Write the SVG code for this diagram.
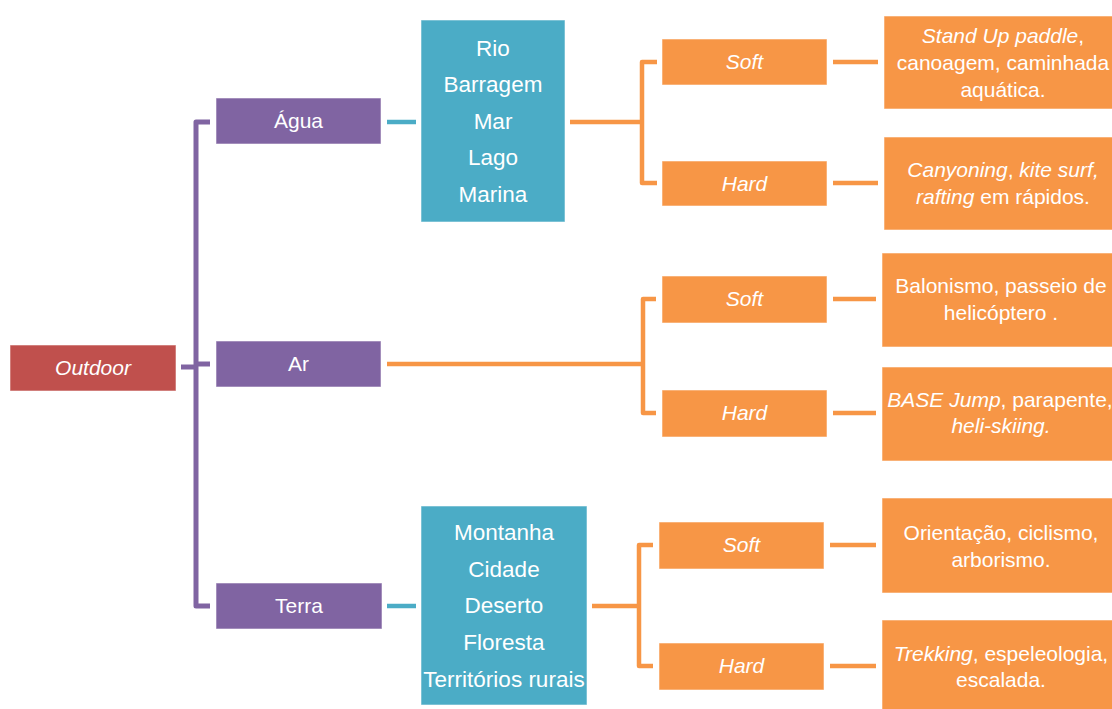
<svg xmlns="http://www.w3.org/2000/svg" width="1112" height="709" viewBox="0 0 1112 709">
<style>
text{font-family:"Liberation Sans",Arial,sans-serif;font-size:21px;fill:#fff;text-anchor:middle}
.i{font-style:italic}
.l{font-size:22.5px}
.r{font-size:21px}
.box{stroke:#fff;stroke-opacity:0.55;stroke-width:1}
.red{fill:#C0504D}.pur{fill:#8064A2}.blu{fill:#4BACC6}.org{fill:#F79646}
.cp{fill:none;stroke:#8064A2;stroke-width:5;stroke-linejoin:round}
.cb{fill:none;stroke:#4BACC6;stroke-width:4.5}
.co{fill:none;stroke:#F79646;stroke-width:4.5;stroke-linejoin:round}
</style>
<rect width="1112" height="709" fill="#fff"/>
<g id="connectors">
<path class="cp" d="M181,367H196"/>
<path class="cp" d="M210,122H196V606H210"/>
<path class="cp" d="M196,364H210"/>
<path class="cb" d="M387,122H416"/>
<path class="cb" d="M387,606H416"/>
<path class="co" d="M570,122H642"/>
<path class="co" d="M657,62H642V183H657"/>
<path class="co" d="M387,364H643"/>
<path class="co" d="M656,299H643V413H656"/>
<path class="co" d="M592,606H639"/>
<path class="co" d="M653,545H639V666H653"/>
<path class="co" d="M833,62H878"/>
<path class="co" d="M833,183H878"/>
<path class="co" d="M833,299H876"/>
<path class="co" d="M833,413H876"/>
<path class="co" d="M830,545H876"/>
<path class="co" d="M830,666H876"/>
</g>
<g id="outdoor"><rect class="box red" x="10" y="345" width="166" height="46"/><text class="i" x="93" y="375">Outdoor</text></g>
<g id="agua"><rect class="box pur" x="216" y="98" width="165" height="46"/><text x="298.5" y="128">Água</text></g>
<g id="ar"><rect class="box pur" x="216" y="341" width="165" height="46"/><text x="298.5" y="371">Ar</text></g>
<g id="terra"><rect class="box pur" x="216" y="583" width="166" height="46"/><text x="299" y="613">Terra</text></g>
<g id="agua-locais"><rect class="box blu" x="421" y="20" width="144" height="202"/>
<text class="l" x="493" y="55.5">Rio</text><text class="l" x="493" y="92">Barragem</text><text class="l" x="493" y="128.5">Mar</text><text class="l" x="493" y="165">Lago</text><text class="l" x="493" y="201.5">Marina</text></g>
<g id="terra-locais"><rect class="box blu" x="421" y="506" width="166" height="199"/>
<text class="l" x="504" y="540">Montanha</text><text class="l" x="504" y="577">Cidade</text><text class="l" x="504" y="613">Deserto</text><text class="l" x="504" y="650">Floresta</text><text class="l" x="504" y="687">Territórios rurais</text></g>
<g id="agua-soft"><rect class="box org" x="662" y="39" width="165" height="46"/><text class="i" x="744.5" y="69">Soft</text></g>
<g id="agua-hard"><rect class="box org" x="662" y="161" width="165" height="45"/><text class="i" x="744.5" y="190.5">Hard</text></g>
<g id="ar-soft"><rect class="box org" x="662" y="276" width="165" height="47"/><text class="i" x="744.5" y="306">Soft</text></g>
<g id="ar-hard"><rect class="box org" x="662" y="390" width="165" height="47"/><text class="i" x="744.5" y="420">Hard</text></g>
<g id="terra-soft"><rect class="box org" x="659" y="522" width="165" height="47"/><text class="i" x="741.5" y="552">Soft</text></g>
<g id="terra-hard"><rect class="box org" x="659" y="643" width="165" height="47"/><text class="i" x="741.5" y="673">Hard</text></g>
<g id="agua-soft-res"><rect class="box org" x="884" y="16" width="238" height="93"/>
<text class="r" x="1003" y="43"><tspan class="i">Stand Up paddle</tspan>,</text>
<text class="r" x="1003" y="70">canoagem, caminhada</text>
<text class="r" x="1003" y="97">aquática.</text></g>
<g id="agua-hard-res"><rect class="box org" x="884" y="137" width="238" height="93"/>
<text class="r" x="1003" y="177"><tspan class="i">Canyoning</tspan>, <tspan class="i">kite surf,</tspan></text>
<text class="r" x="1003" y="204"><tspan class="i">rafting</tspan> em rápidos.</text></g>
<g id="ar-soft-res"><rect class="box org" x="882" y="253" width="240" height="94"/>
<text class="r" x="1001" y="293">Balonismo, passeio de</text>
<text class="r" x="1001" y="320">helicóptero .</text></g>
<g id="ar-hard-res"><rect class="box org" x="882" y="367" width="240" height="94"/>
<text class="r" x="1000" y="407"><tspan class="i">BASE Jump</tspan>, parapente,</text>
<text class="r" x="1001" y="433"><tspan class="i">heli-skiing.</tspan></text></g>
<g id="terra-soft-res"><rect class="box org" x="882" y="498" width="240" height="95"/>
<text class="r" x="1001" y="540">Orientação, ciclismo,</text>
<text class="r" x="1001" y="567">arborismo.</text></g>
<g id="terra-hard-res"><rect class="box org" x="882" y="620" width="240" height="95"/>
<text class="r" x="1001" y="661"><tspan class="i">Trekking</tspan>, espeleologia,</text>
<text class="r" x="1001" y="687">escalada.</text></g>
</svg>
